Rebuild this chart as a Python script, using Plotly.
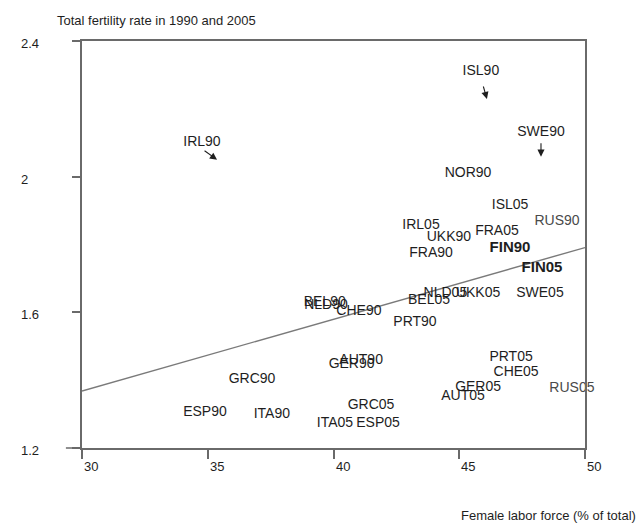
import plotly.graph_objects as go

# Country labels: female labor force (% of total) vs total fertility rate
labels = ["ISL90", "SWE90", "IRL90", "NOR90", "ISL05", "IRL05", "RUS90", "UKK90",
          "FRA05", "FRA90", "NLD05", "UKK05", "BEL05", "SWE05", "BEL90", "NLD90",
          "CHE90", "PRT90", "AUT90", "GER90", "PRT05", "CHE05", "GER05", "AUT05",
          "RUS05", "GRC05", "ITA05", "ESP05", "GRC90", "ESP90", "ITA90"]
labor = [45.86, 48.25, 34.77, 45.35, 47.02, 43.48, 48.89, 44.59,
         46.50, 43.88, 44.45, 45.75, 43.80, 48.21, 39.65, 39.70,
         41.01, 43.24, 41.10, 40.72, 47.06, 47.26, 45.75, 45.15,
         49.48, 41.49, 40.06, 41.77, 36.76, 34.89, 37.55]
fertility = [2.309, 2.129, 2.100, 2.009, 1.915, 1.856, 1.868, 1.821,
             1.838, 1.774, 1.656, 1.656, 1.636, 1.656, 1.630, 1.620,
             1.603, 1.571, 1.459, 1.447, 1.468, 1.424, 1.379, 1.353,
             1.374, 1.324, 1.271, 1.271, 1.403, 1.306, 1.300]
muted = ["RUS90", "RUS05"]

# Finland highlighted in bold
fin_labels = ["FIN90", "FIN05"]
fin_labor = [47.02, 48.29]
fin_fertility = [1.788, 1.729]

# Fitted line across the labor-force range
fit_x = [30, 50]
fit_y = [1.368, 1.791]

# Arrow heads marking the 1990 positions of outlying countries
arrow_x = [46.10, 48.25, 35.37]
arrow_y = [2.229, 2.059, 2.050]
arrow_dx = [-4, 0, -14]
arrow_dy = [-14, -15, -10]

x_ticks = [30, 35, 40, 45, 50]
y_ticks = [1.2, 1.6, 2.0, 2.4]
y_tick_text = ["1.2", "1.6", "2", "2.4"]
y_min, y_max = 1.2, 2.4

FONT = "Liberation Sans, Arial, Helvetica, sans-serif"
INK = "#1e1e1e"
AXIS = "#6a6a6a"

fig = go.Figure()

fig.add_trace(go.Scatter(
    x=fit_x, y=fit_y, mode="lines",
    line=dict(color="#7a7a7a", width=1.4),
    hoverinfo="skip", showlegend=False,
))

colors = ["#4a4a4a" if lab in muted else INK for lab in labels]
fig.add_trace(go.Scatter(
    x=labor, y=fertility, mode="text", text=labels,
    textposition="middle center",
    textfont=dict(family=FONT, size=14, color=colors),
    showlegend=False, cliponaxis=False,
))

fig.add_trace(go.Scatter(
    x=fin_labor, y=fin_fertility, mode="text", text=fin_labels,
    textposition="middle center",
    textfont=dict(family=FONT, size=15, color=INK, weight="bold"),
    showlegend=False, cliponaxis=False,
))

annotations = []
for ax_, ay_, dx, dy in zip(arrow_x, arrow_y, arrow_dx, arrow_dy):
    annotations.append(dict(
        x=ax_, y=ay_, xref="x", yref="y", text="", showarrow=True,
        ax=dx, ay=dy, arrowhead=2, arrowsize=1.3, arrowwidth=1.1,
        arrowcolor=INK,
    ))

# Tick labels, set just right of each x tick and at the far left for y
for v in x_ticks:
    annotations.append(dict(
        x=v, y=-0.022, xref="x", yref="paper", text=str(v), showarrow=False,
        xanchor="left", yanchor="top",
        font=dict(family=FONT, size=13, color=INK),
    ))
for v, t in zip(y_ticks, y_tick_text):
    annotations.append(dict(
        x=-0.125, y=(v - y_min) / (y_max - y_min) - 0.006,
        xref="paper", yref="paper", text=t, showarrow=False,
        xanchor="left", yanchor="middle",
        font=dict(family=FONT, size=13, color=INK),
    ))

annotations.append(dict(
    x=-0.054, y=1.05, xref="paper", yref="paper",
    text="Total fertility rate in 1990 and 2005", showarrow=False,
    xanchor="left", yanchor="middle",
    font=dict(family=FONT, size=13, color=INK),
))
annotations.append(dict(
    x=1.105, y=-0.167, xref="paper", yref="paper",
    text="Female labor force (% of total)", showarrow=False,
    xanchor="right", yanchor="middle",
    font=dict(family=FONT, size=13, color=INK),
))

shapes = [
    # axis stubs extending past the lower-left corner
    dict(type="line", xref="paper", yref="paper", x0=-0.032, x1=0, y0=0, y1=0,
         line=dict(color=AXIS, width=1.5)),
    dict(type="line", xref="paper", yref="paper", x0=0, x1=0, y0=-0.02, y1=0,
         line=dict(color=AXIS, width=1.5)),
]

fig.update_layout(
    width=641, height=524,
    margin=dict(l=82, r=56, t=41, b=76),
    paper_bgcolor="white", plot_bgcolor="white",
    font=dict(family=FONT, color=INK),
    annotations=annotations, shapes=shapes,
    showlegend=False,
)
fig.update_xaxes(
    range=[30, 50], tickvals=x_ticks, showticklabels=False,
    ticks="outside", ticklen=9, tickwidth=1.5, tickcolor=AXIS,
    showline=True, mirror=True, linecolor=AXIS, linewidth=1.5,
    showgrid=False, zeroline=False,
)
fig.update_yaxes(
    range=[y_min, y_max], tickvals=y_ticks, showticklabels=False,
    ticks="outside", ticklen=8, tickwidth=1.5, tickcolor=AXIS,
    showline=True, mirror=True, linecolor=AXIS, linewidth=1.5,
    showgrid=False, zeroline=False,
)

fig.write_html("out.html")
